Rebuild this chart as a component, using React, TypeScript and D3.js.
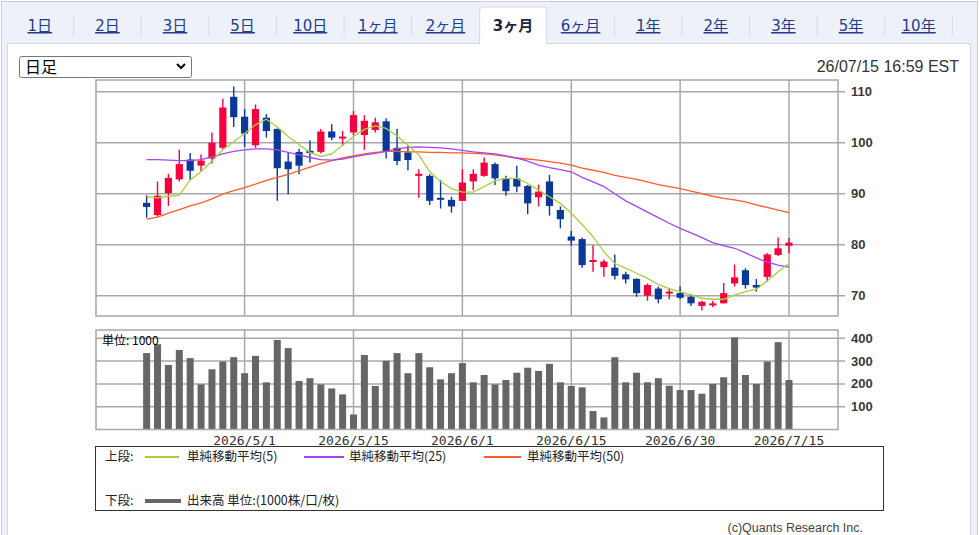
import * as d3 from "d3";

// trading days shown in the 3-month view
const dates = [
  "2026/4/20", "2026/4/21", "2026/4/22", "2026/4/23", "2026/4/24", "2026/4/27", "2026/4/28", "2026/4/29", "2026/4/30",
  "2026/5/1", "2026/5/4", "2026/5/5", "2026/5/6", "2026/5/7", "2026/5/8", "2026/5/11", "2026/5/12", "2026/5/13", "2026/5/14",
  "2026/5/15", "2026/5/18", "2026/5/19", "2026/5/20", "2026/5/21", "2026/5/22", "2026/5/26", "2026/5/27", "2026/5/28", "2026/5/29",
  "2026/6/1", "2026/6/2", "2026/6/3", "2026/6/4", "2026/6/5", "2026/6/8", "2026/6/9", "2026/6/10", "2026/6/11", "2026/6/12",
  "2026/6/15", "2026/6/16", "2026/6/17", "2026/6/18", "2026/6/22", "2026/6/23", "2026/6/24", "2026/6/25", "2026/6/26", "2026/6/29",
  "2026/6/30", "2026/7/1", "2026/7/2", "2026/7/6", "2026/7/7", "2026/7/8", "2026/7/9", "2026/7/10", "2026/7/13", "2026/7/14",
  "2026/7/15",
];

const open = [
  88.2, 85.8, 90.1, 92.8, 96.7, 95.5, 96.9, 99.0, 109.0, 105.1,
  99.5, 104.9, 102.7, 96.3, 98.2, 98.4, 98.2, 102.2, 101.0, 102.0,
  101.5, 102.5, 104.2, 99.0, 98.1, 93.8, 93.5, 89.2, 88.8, 88.6,
  92.4, 93.5, 95.8, 93.0, 93.0, 91.5, 89.3, 92.4, 86.8, 81.6,
  81.1, 76.8, 75.6, 75.5, 74.2, 73.3, 70.0, 71.4, 70.6, 70.5,
  69.8, 68.0, 68.4, 68.5, 72.4, 75.0, 72.1, 73.7, 78.0, 79.8,
];
const high = [
  89.7, 92.4, 93.9, 98.6, 98.0, 97.7, 102.0, 108.6, 111.0, 106.6,
  107.5, 105.6, 102.8, 98.1, 98.8, 100.5, 102.7, 103.6, 102.3, 106.2,
  105.4, 104.9, 104.8, 102.7, 99.4, 94.8, 93.8, 92.7, 89.4, 94.8,
  94.8, 97.1, 96.1, 93.5, 95.5, 91.7, 91.8, 93.7, 87.5, 82.7,
  81.4, 79.9, 77.1, 78.1, 74.7, 73.4, 72.4, 71.8, 71.4, 71.8,
  70.3, 69.0, 69.0, 72.5, 76.1, 75.4, 73.3, 78.3, 81.4, 81.3,
];
const low = [
  85.3, 85.5, 87.6, 92.4, 92.7, 94.4, 95.9, 98.6, 103.1, 99.2,
  99.0, 101.0, 88.6, 89.9, 93.8, 96.1, 97.9, 100.5, 99.4, 101.5,
  98.6, 102.0, 96.9, 95.6, 94.6, 89.2, 87.8, 87.1, 86.3, 88.6,
  90.7, 93.3, 91.7, 89.6, 90.3, 86.0, 87.5, 85.7, 83.2, 79.8,
  75.5, 74.7, 73.7, 73.2, 72.4, 69.8, 69.0, 68.5, 69.3, 69.3,
  68.0, 67.1, 67.8, 68.5, 71.8, 71.4, 70.8, 72.7, 77.8, 78.3,
];
const close = [
  87.4, 89.6, 93.1, 95.8, 94.5, 96.5, 100.0, 106.9, 105.0, 101.8,
  106.6, 102.3, 95.0, 94.8, 95.5, 98.0, 102.2, 101.0, 101.2, 105.4,
  104.3, 104.0, 98.2, 96.4, 96.6, 93.9, 88.6, 88.9, 87.5, 92.2,
  93.9, 96.1, 93.0, 90.5, 91.4, 88.1, 90.4, 87.6, 85.0, 80.8,
  76.0, 77.0, 76.7, 73.9, 73.2, 70.5, 72.1, 69.3, 70.8, 69.6,
  68.5, 68.8, 68.5, 70.5, 73.6, 72.1, 71.6, 78.1, 79.3, 80.4,
];

// volume, unit 1000
const volume = [
  335, 374, 283, 349, 313, 198, 264, 298, 317, 247,
  323, 207, 393, 357, 213, 225, 198, 180, 154, 66,
  327, 191, 301, 335, 247, 335, 273, 220, 247, 291,
  207, 239, 198, 217, 249, 271, 257, 288, 207, 191,
  185, 81, 53, 317, 207, 249, 207, 225, 192, 173,
  173, 157, 200, 229, 404, 239, 200, 298, 383, 217,
];

const ma5 = [
  89.4, 89.2, 89.5, 89.7, 92.7, 94.3, 96.4, 98.6, 100.2, 101.8,
  103.5, 104.6, 103.1, 101.2, 99.6, 98.1, 97.3, 97.8, 99.5, 101.2,
  102.6, 103.3, 102.8, 101.3, 99.5, 97.6, 94.3, 92.4, 91.0, 90.3,
  90.3, 91.4, 92.5, 93.0, 93.0, 92.0, 90.7, 89.4, 88.1, 86.2,
  83.9, 81.6, 78.6, 76.3, 75.4, 74.4, 73.4, 72.2, 71.4, 70.8,
  70.1, 69.5, 69.3, 69.3, 70.1, 70.8, 71.3, 72.9, 74.7, 76.3,
];
const ma25 = [
  96.7, 96.7, 96.6, 96.5, 96.5, 96.7, 97.2, 97.8, 98.3, 98.6,
  98.8, 98.8, 98.6, 98.1, 97.6, 97.1, 96.7, 96.6, 96.8, 97.2,
  97.6, 97.9, 98.3, 98.8, 99.1, 99.2, 99.1, 99.0, 98.8, 98.5,
  98.2, 98.0, 97.8, 97.4, 97.0, 96.4, 95.6, 95.1, 94.7, 94.3,
  93.2, 92.3, 91.4, 90.0, 88.6, 87.5, 86.4, 85.3, 84.2, 83.2,
  82.3, 81.4, 80.4, 79.8, 79.3, 78.4, 77.4, 76.6, 76.0, 75.6,
];
const ma50 = [
  85.0, 85.4, 86.2, 86.9, 87.6, 88.2, 89.0, 89.9, 90.6, 91.2,
  91.9, 92.6, 93.2, 93.8, 94.5, 95.2, 95.9, 96.5, 97.0, 97.4,
  97.8, 98.1, 98.3, 98.3, 98.2, 98.2, 98.1, 98.1, 98.0, 98.0,
  97.9, 97.8, 97.6, 97.3, 97.0, 96.8, 96.6, 96.3, 96.0, 95.6,
  95.0, 94.6, 94.2, 93.6, 93.2, 92.8, 92.3, 91.8, 91.4, 91.0,
  90.5, 90.0, 89.5, 89.1, 88.8, 88.4, 87.8, 87.3, 86.8, 86.3,
];

const priceTicks = [70, 80, 90, 100, 110];
const volumeTicks = [100, 200, 300, 400];
const dateTicks = ["2026/5/1", "2026/5/15", "2026/6/1", "2026/6/15", "2026/6/30", "2026/7/15"];
const tabs = ["1日", "2日", "3日", "5日", "10日", "1ヶ月", "2ヶ月", "3ヶ月", "6ヶ月", "1年", "2年", "3年", "5年", "10年"];
const ACTIVE_TAB = "3ヶ月";

const W = 979;
const H = 535;
const PLOT = { left: 96, right: 838 };
const PRICE = { top: 80, bottom: 316 };
const VOL = { top: 330, bottom: 429.5 };

const UP = "#f5003d";
const DOWN = "#0b3896";
const GRID = "#a8a8a8";
const MA_COLORS = { ma5: "#a9cf3f", ma25: "#a444f2", ma50: "#ff5b2c" };
const FONT = "'DejaVu Sans', 'Noto Sans CJK JP', sans-serif";
const CJK = "'Noto Sans CJK JP', sans-serif";
const AXIS_FONT = "'Liberation Sans', Arial, sans-serif";

export default function App() {
  const idx = d3.range(dates.length);
  const x = d3.scaleLinear().domain([-4.65, 63.5]).range([PLOT.left, PLOT.right]);
  const yP = d3.scaleLinear().domain([70, 110]).range([295.7, 91.7]);
  const yV = d3.scaleLinear().domain([0, 400]).range([VOL.bottom, 338.3]);

  const maLine = (vals: number[]) =>
    d3.line<number>().x((_, i) => x(i)).y((v) => yP(v))(vals) ?? "";

  const tabW = 67.6;
  const tabX0 = 6;
  const activeIdx = tabs.indexOf(ACTIVE_TAB);

  return (
    <svg
      width={W}
      height={H}
      style={{ position: "absolute", left: 0, top: 0, display: "block" }}
      fontFamily={FONT}
    >
      <rect x={0} y={0} width={W} height={H} fill="#fff" />
      {/* tab strip */}
      <rect x={1.5} y={1.5} width={W - 3} height={H + 10} fill="#eef1f9" stroke="#c9cdd6" />
      {tabs.map((t, i) => {
        const left = tabX0 + i * tabW;
        const sep = i + 1 !== activeIdx && i !== activeIdx;
        return sep ? (
          <line key={t} x1={left + tabW} x2={left + tabW} y1={16} y2={36} stroke="#d6dae4" />
        ) : null;
      })}
      <rect x={7.5} y={43.5} width={963} height={H} fill="#fff" stroke="#d3d7e0" />
      <path
        d={`M${tabX0 + activeIdx * tabW + 0.5},44.5 V10 q0,-3 3,-3 H${tabX0 + (activeIdx + 1) * tabW - 3.5} q3,0 3,3 V44.5`}
        fill="#fff"
        stroke="#d3d7e0"
      />
      <rect x={tabX0 + activeIdx * tabW + 1} y={42} width={tabW - 2} height={3} fill="#fff" />
      {tabs.map((t, i) => {
        const cx = tabX0 + i * tabW + tabW / 2;
        const active = i === activeIdx;
        return (
          <text
            key={t}
            x={cx}
            y={31}
            textAnchor="middle"
            fontSize={15}
            fill={active ? "#1c2440" : "#213d8e"}
            fontWeight={active ? "bold" : "normal"}
            textDecoration={active ? "none" : "underline"}
          >
            {t}
          </text>
        );
      })}

      {/* header */}
      <rect x={19.5} y={56.5} width={172} height={21} rx={2} fill="#fff" stroke="#767676" />
      <text x={25} y={73} fontSize={16} fontFamily={CJK} fill="#000">日足</text>
      <path d="M177,64 l4,4 l4,-4" fill="none" stroke="#000" strokeWidth={2} />
      <text x={959} y={72} textAnchor="end" fontSize={16} fontFamily={AXIS_FONT} fill="#333">26/07/15 16:59 EST</text>

      {/* price panel */}
      {priceTicks.map((t) => (
        <g key={t}>
          <line x1={PLOT.left} x2={PLOT.right + 7} y1={yP(t)} y2={yP(t)} stroke={GRID} strokeWidth={1.5} />
          <text x={851} y={yP(t)} dy="0.35em" fontSize={13} fontWeight="bold" fontFamily={AXIS_FONT} fill="#3a3a3a">{t}</text>
        </g>
      ))}
      {dateTicks.map((d) => {
        const xi = x(dates.indexOf(d));
        return (
          <g key={d}>
            <line x1={xi} x2={xi} y1={PRICE.top} y2={PRICE.bottom} stroke={GRID} strokeWidth={1.5} />
            <line x1={xi} x2={xi} y1={VOL.top} y2={VOL.bottom} stroke={GRID} strokeWidth={1.5} />
            <text x={xi} y={445} textAnchor="middle" fontSize={13} fontFamily="'DejaVu Sans Mono', monospace" fill="#333">{d}</text>
          </g>
        );
      })}
      <rect x={PLOT.left} y={PRICE.top} width={PLOT.right - PLOT.left} height={PRICE.bottom - PRICE.top} fill="none" stroke={GRID} strokeWidth={1.5} />

      {idx.map((i) => {
        const up = close[i] >= open[i];
        const color = up ? UP : DOWN;
        const top = yP(Math.max(open[i], close[i]));
        const bot = yP(Math.min(open[i], close[i]));
        return (
          <g key={i}>
            <line x1={x(i)} x2={x(i)} y1={yP(high[i])} y2={yP(low[i])} stroke={color} strokeWidth={1.4} />
            <rect x={x(i) - 3.6} y={top} width={7.2} height={Math.max(bot - top, 2)} fill={color} />
          </g>
        );
      })}
      <path d={maLine(ma50)} fill="none" stroke={MA_COLORS.ma50} strokeWidth={1.3} />
      <path d={maLine(ma25)} fill="none" stroke={MA_COLORS.ma25} strokeWidth={1.3} />
      <path d={maLine(ma5)} fill="none" stroke={MA_COLORS.ma5} strokeWidth={1.3} />

      {/* volume panel */}
      {volumeTicks.map((t) => (
        <g key={t}>
          <line x1={PLOT.left} x2={PLOT.right + 7} y1={yV(t)} y2={yV(t)} stroke={GRID} strokeWidth={1.5} />
          <text x={851} y={yV(t)} dy="0.35em" fontSize={13} fontWeight="bold" fontFamily={AXIS_FONT} fill="#3a3a3a">{t}</text>
        </g>
      ))}
      {idx.map((i) => (
        <rect key={i} x={x(i) - 3.5} y={yV(volume[i])} width={7} height={yV(0) - yV(volume[i])} fill="#666" />
      ))}
      <rect x={PLOT.left} y={VOL.top} width={PLOT.right - PLOT.left} height={VOL.bottom - VOL.top} fill="none" stroke={GRID} strokeWidth={1.5} />
      <text x={102} y={345} fontSize={12} fontFamily={CJK} fill="#000">単位: 1000</text>

      {/* legend */}
      <rect x={95.5} y={446.5} width={788} height={64} fill="#fff" stroke="#333" />
      <g fontFamily={CJK} fontSize={12.5} fill="#222">
        <text x={105} y={457} dy="0.35em">上段:</text>
        <line x1={145} x2={179} y1={457} y2={457} stroke={MA_COLORS.ma5} strokeWidth={1.8} />
        <text x={187} y={457} dy="0.35em">単純移動平均(5)</text>
        <line x1={304} x2={344} y1={457} y2={457} stroke={MA_COLORS.ma25} strokeWidth={1.8} />
        <text x={349} y={457} dy="0.35em">単純移動平均(25)</text>
        <line x1={484} x2={521} y1={457} y2={457} stroke={MA_COLORS.ma50} strokeWidth={1.8} />
        <text x={527} y={457} dy="0.35em">単純移動平均(50)</text>
        <text x={105} y={501} dy="0.35em">下段:</text>
        <line x1={145} x2={181} y1={501} y2={501} stroke="#666" strokeWidth={4} />
        <text x={187} y={501} dy="0.35em">出来高 単位:(1000株/口/枚)</text>
      </g>
      <text x={863} y={528} dy="0.35em" textAnchor="end" fontSize={12.5} fontFamily={AXIS_FONT} fill="#444">
        (c)Quants Research Inc.
      </text>
    </svg>
  );
}
